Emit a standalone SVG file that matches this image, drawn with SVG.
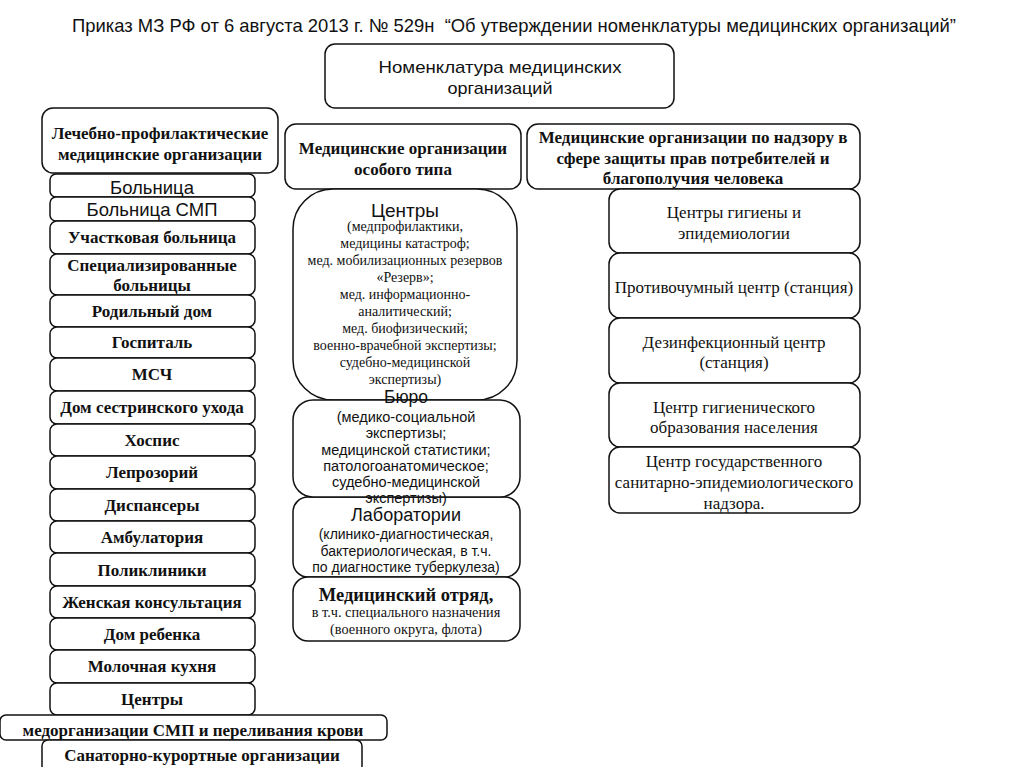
<svg xmlns="http://www.w3.org/2000/svg" width="1024" height="767" viewBox="0 0 1024 767">
<style>
.b{fill:#fff;stroke:#111;stroke-width:1.5}
.t{font-family:"Liberation Serif","Times New Roman",serif;fill:#111;text-anchor:middle}
.tb{font-family:"Liberation Serif","Times New Roman",serif;font-weight:bold;fill:#111;text-anchor:middle}
.s{font-family:"Liberation Sans",Arial,sans-serif;fill:#111;text-anchor:middle}
.n{font-family:"Liberation Sans Narrow","Liberation Sans",Arial,sans-serif;fill:#111;text-anchor:middle}
.li{font-size:17px}
.ri{font-size:17px}
</style>
<rect width="1024" height="767" fill="#fff"/>
<text class="n" x="514" y="32" font-size="19" textLength="884" lengthAdjust="spacingAndGlyphs" xml:space="preserve">Приказ МЗ РФ от 6 августа 2013 г. № 529н  “Об утверждении номенклатуры медицинских организаций”</text>

<g id="root">
<rect class="b" x="325" y="44" width="349" height="64" rx="10"/>
<text class="n" x="500" y="73" font-size="17" textLength="243" lengthAdjust="spacingAndGlyphs">Номенклатура медицинских</text>
<text class="n" x="500" y="94" font-size="17" textLength="105" lengthAdjust="spacingAndGlyphs">организаций</text>
</g>

<g id="lpmo">
<rect class="b" x="42" y="108" width="236" height="65" rx="11"/>
<text class="tb" x="160" y="139" font-size="17">Лечебно-профилактические</text>
<text class="tb" x="160" y="160" font-size="17">медицинские организации</text>
</g>

<g id="left-items">
<g id="l1"><rect class="b" x="50" y="174" width="205" height="23" rx="6"/><text class="s" x="152" y="194" font-size="18.5">Больница</text></g>
<g id="l2"><rect class="b" x="50" y="197" width="205" height="24" rx="6"/><text class="s" x="152" y="216" font-size="18.5">Больница СМП</text></g>
<g id="l3"><rect class="b" x="50" y="221" width="205" height="33" rx="7"/><text class="tb li" x="152" y="243">Участковая больница</text></g>
<g id="l4"><rect class="b" x="50" y="254" width="205" height="41" rx="7"/><text class="tb li" x="152" y="271">Специализированные</text><text class="tb li" x="152" y="291">больницы</text></g>
<g id="l5"><rect class="b" x="50" y="295" width="205" height="32" rx="7"/><text class="tb li" x="152" y="317">Родильный дом</text></g>
<g id="l6"><rect class="b" x="50" y="327" width="205" height="31" rx="7"/><text class="tb li" x="152" y="348">Госпиталь</text></g>
<g id="l7"><rect class="b" x="50" y="358" width="205" height="33" rx="7"/><text class="tb li" x="152" y="380">МСЧ</text></g>
<g id="l8"><rect class="b" x="50" y="391" width="205" height="33" rx="7"/><text class="tb li" x="152" y="413">Дом сестринского ухода</text></g>
<g id="l9"><rect class="b" x="50" y="424" width="205" height="32" rx="7"/><text class="tb li" x="152" y="446">Хоспис</text></g>
<g id="l10"><rect class="b" x="50" y="456" width="205" height="33" rx="7"/><text class="tb li" x="152" y="478">Лепрозорий</text></g>
<g id="l11"><rect class="b" x="50" y="489" width="205" height="32" rx="7"/><text class="tb li" x="152" y="511">Диспансеры</text></g>
<g id="l12"><rect class="b" x="50" y="521" width="205" height="32" rx="7"/><text class="tb li" x="152" y="543">Амбулатория</text></g>
<g id="l13"><rect class="b" x="50" y="553" width="205" height="33" rx="7"/><text class="tb li" x="152" y="576">Поликлиники</text></g>
<g id="l14"><rect class="b" x="50" y="586" width="205" height="32" rx="7"/><text class="tb li" x="152" y="608">Женская консультация</text></g>
<g id="l15"><rect class="b" x="50" y="618" width="205" height="32" rx="7"/><text class="tb li" x="152" y="640">Дом ребенка</text></g>
<g id="l16"><rect class="b" x="50" y="650" width="205" height="33" rx="7"/><text class="tb li" x="152" y="672">Молочная кухня</text></g>
<g id="l17"><rect class="b" x="50" y="683" width="205" height="32" rx="7"/><text class="tb li" x="152" y="705">Центры</text></g>
<g id="l18"><rect class="b" x="0" y="715" width="387" height="25" rx="6"/><text class="tb" x="193" y="736" font-size="17">медорганизации СМП и переливания крови</text></g>
<g id="l19"><rect class="b" x="42" y="740" width="320" height="32" rx="6"/><text class="tb" x="202" y="761" font-size="17">Санаторно-курортные организации</text></g>
</g>

<g id="special">
<rect class="b" x="285" y="124" width="236" height="65" rx="11"/>
<text class="tb" x="403" y="154" font-size="17">Медицинские организации</text>
<text class="tb" x="403" y="175" font-size="17">особого типа</text>
</g>

<g id="centers">
<rect class="b" x="293" y="189" width="224" height="211" rx="40"/>
<text class="s" x="405" y="217" font-size="19">Центры</text>
<g class="t" font-size="14">
<text x="405" y="231">(медпрофилактики,</text>
<text x="405" y="248">медицины катастроф;</text>
<text x="405" y="265">мед. мобилизационных резервов</text>
<text x="405" y="282">«Резерв»;</text>
<text x="405" y="299">мед. информационно-</text>
<text x="405" y="316">аналитический;</text>
<text x="405" y="333">мед. биофизический;</text>
<text x="405" y="350">военно-врачебной экспертизы;</text>
<text x="405" y="367">судебно-медицинской</text>
<text x="405" y="384">экспертизы)</text>
</g>
</g>

<g id="labs">
<rect class="b" x="293" y="497" width="227" height="80" rx="15"/>
<text class="s" x="406" y="521" font-size="18">Лаборатории</text>
<g class="s" font-size="14">
<text x="406" y="539">(клинико-диагностическая,</text>
<text x="406" y="556">бактериологическая, в т.ч.</text>
<text x="406" y="572">по диагностике туберкулеза)</text>
</g>
</g>

<g id="bureau">
<rect class="b" x="293" y="400" width="227" height="97" rx="20"/>
<text class="s" x="406" y="403" font-size="17.5">Бюро</text>
<g class="s" font-size="14.5">
<text x="406" y="422">(медико-социальной</text>
<text x="406" y="438">экспертизы;</text>
<text x="406" y="455">медицинской статистики;</text>
<text x="406" y="471">патологоанатомическое;</text>
<text x="406" y="487">судебно-медицинской</text>
<text x="406" y="503">экспертизы)</text>
</g>
</g>

<g id="detachment">
<rect class="b" x="293" y="577" width="227" height="64" rx="15"/>
<text class="tb" x="406" y="601" font-size="18.5">Медицинский отряд,</text>
<text class="t" x="406" y="617" font-size="14.3">в т.ч. специального назначения</text>
<text class="t" x="406" y="634" font-size="14.3">(военного округа, флота)</text>
</g>

<g id="supervision">
<rect class="b" x="527" y="124" width="333" height="65" rx="11"/>
<text class="tb" x="693" y="143" font-size="17">Медицинские организации по надзору в</text>
<text class="tb" x="693" y="164" font-size="17">сфере защиты прав потребителей и</text>
<text class="tb" x="693" y="184" font-size="17">благополучия человека</text>
</g>

<g id="right-items">
<g id="r1"><rect class="b" x="609" y="189" width="251" height="64" rx="11"/><text class="t ri" x="734" y="218">Центры гигиены и</text><text class="t ri" x="734" y="239">эпидемиологии</text></g>
<g id="r2"><rect class="b" x="609" y="253" width="251" height="65" rx="11"/><text class="t ri" x="734" y="293">Противочумный центр (станция)</text></g>
<g id="r3"><rect class="b" x="609" y="318" width="251" height="65" rx="11"/><text class="t ri" x="734" y="348">Дезинфекционный центр</text><text class="t ri" x="734" y="368">(станция)</text></g>
<g id="r4"><rect class="b" x="609" y="383" width="251" height="64" rx="11"/><text class="t ri" x="734" y="413">Центр гигиенического</text><text class="t ri" x="734" y="433">образования населения</text></g>
<g id="r5"><rect class="b" x="609" y="447" width="251" height="66" rx="11"/><text class="t ri" x="734" y="467">Центр государственного</text><text class="t ri" x="734" y="488">санитарно-эпидемиологического</text><text class="t ri" x="734" y="509">надзора.</text></g>
</g>

<g id="connectors"></g>
</svg>
